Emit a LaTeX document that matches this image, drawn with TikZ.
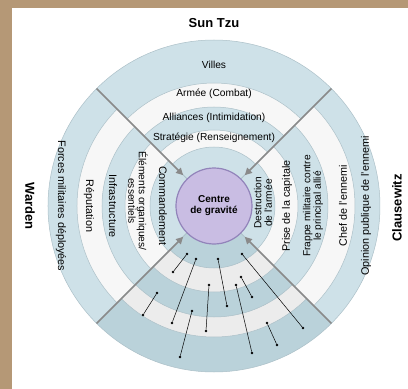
\documentclass[tikz,border=0pt]{standalone}
\usepackage{fontspec}
\setmainfont{Liberation Sans}
\usetikzlibrary{arrows.meta}
\definecolor{frame}{RGB}{181,152,118}
\definecolor{ringblue}{RGB}{206,225,232}
\definecolor{ringwhite}{RGB}{247,247,247}
\definecolor{lowblue}{RGB}{186,210,218}
\definecolor{lowwhite}{RGB}{236,236,236}
\definecolor{ringedge}{RGB}{172,192,200}
\definecolor{cgfill}{RGB}{201,189,227}
\definecolor{cgedge}{RGB}{146,132,186}
\definecolor{divider}{RGB}{138,138,138}

\begin{document}
\begin{tikzpicture}[x=1pt,y=1pt,inner sep=0pt,font=\fontsize{10.2}{10.4}\selectfont,
  dot/.style={circle,inner sep=0.9pt,fill=black},
  div/.style={draw=divider,line width=1.5pt,-{Triangle[length=7pt,width=7pt]},shorten >=5pt},
  side/.style={font=\fontsize{10.8}{10.8}\selectfont},
  head/.style={font=\bfseries\fontsize{13}{14}\selectfont}]

% frame
\fill[frame] (-214,-183) rectangle (194,206);
\fill[white] (-202,-183) rectangle (194,198);
\useasboundingbox (-214,-183) rectangle (194,206);

% rings, one sector at a time
\foreach \sa/\sb/\cb/\cw/\ra/\rb/\rc/\rd/\re in
  {45/135/ringblue/ringwhite/166/123/99/76/59,
   135/225/ringblue/ringwhite/166/137/112/89/64,
   225/315/lowblue/lowwhite/166/131/111/86/62,
   -45/45/ringblue/ringwhite/166/141/114/84/61}
{
  \foreach \rr/\col in {\ra/\cb,\rb/\cw,\rc/\cb,\rd/\cw,\re/\cb}
    \filldraw[fill=\col,draw=ringedge,line width=0.5pt]
      (0,0) -- (\sa:\rr) arc[start angle=\sa,end angle=\sb,radius=\rr pt] -- cycle;
}

\node (cg) at (0,0) [circle,minimum size=76pt,fill=cgfill,draw=cgedge,line width=1.2pt,
  align=center,font=\bfseries\fontsize{10}{11}\selectfont] {Centre\\de gravité};

% dividers
\coordinate (ne) at (45:166);
\coordinate (nw) at (135:166);
\coordinate (sw) at (225:166);
\coordinate (se) at (315:166);
\draw[div] (ne) -- (cg);
\draw[div] (nw) -- (cg);
\draw[div] (sw) -- (cg);
\draw[div] (se) -- (cg);

% Sun Tzu
\node (villes) at (0,141) {Villes};
\node (armee) at (0,112) {Armée (Combat)};
\node (alli) at (0,88) {Alliances (Intimidation)};
\node (strat) at (0,68) {Stratégie (Renseignement)};

% Warden
\node (forces) at (-153,0) [side,rotate=-90] {Forces militaires déployées};
\node (repu) at (-125,0) [side,rotate=-90] {Réputation};
\node (infra) at (-101,0) [side,rotate=-90] {Infrastructure};
\node (elem) at (-76,5) [rotate=-90,align=center] {Éléments organiques/\\essentiels};
\node (cmd) at (-51,0) [side,rotate=-90] {Commandement};

% Clausewitz
\node (destr) at (49,3) [rotate=90,align=center] {Destruction\\de l'armée};
\node (prise) at (73,0) [side,rotate=90] {Prise de la capitale};
\node (frappe) at (99,0) [rotate=90,align=center] {Frappe militaire contre\\le principal allié};
\node (chef) at (129,0) [side,rotate=90] {Chef de l'ennemi};
\node (opin) at (152,0) [side,rotate=90] {Opinion publique de l'ennemi};

\node (suntzu) at (0,183) [head] {Sun Tzu};
\node (warden) at (-184,0) [head,rotate=-90] {Warden};
\node (clause) at (183,-2) [head,rotate=90] {Clausewitz};

% links in the lower sector
\node (a1) at (-27,-48) [dot] {};
\node (b1) at (-41,-66) [dot] {};
\node (a2) at (-18,-53) [dot] {};
\node (b2) at (-42,-117) [dot] {};
\node (a3) at (4,-53) [dot] {};
\node (b3) at (13,-100) [dot] {};
\node (a4) at (28,-48) [dot] {};
\node (b4) at (89,-122) [dot] {};
\node (a5) at (-57,-87) [dot] {};
\node (b5) at (-71,-109) [dot] {};
\node (a6) at (-5,-79) [dot] {};
\node (b6) at (-8,-125) [dot] {};
\node (a7) at (22,-79) [dot] {};
\node (b7) at (38,-147) [dot] {};
\node (a8) at (27,-71) [dot] {};
\node (b8) at (38,-91) [dot] {};
\node (a9) at (-22,-105) [dot] {};
\node (b9) at (-34,-151) [dot] {};
\node (a10) at (53,-117) [dot] {};
\node (b10) at (63,-139) [dot] {};
\foreach \i in {1,...,10}
  \draw[line width=0.5pt] (a\i) -- (b\i);
\end{tikzpicture}
\end{document}
